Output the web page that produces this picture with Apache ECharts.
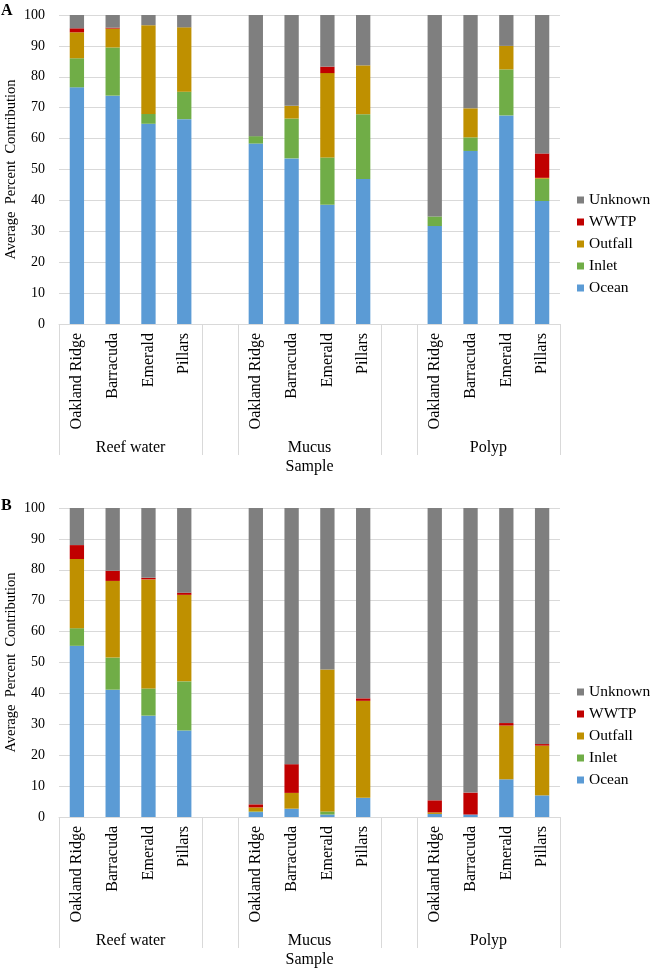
<!DOCTYPE html>
<html>
<head>
<meta charset="utf-8">
<script src="https://cdn.jsdelivr.net/npm/echarts@6/dist/echarts.min.js"></script>
<style>html,body{margin:0;padding:0;background:#fff;}#c{width:650px;height:970px;}</style>
</head>
<body>
<div id="c"></div>
<script>
// ---- data ----
const sites = ['Oakland Ridge', 'Barracuda', 'Emerald', 'Pillars'];
const groups = ['Reef water', 'Mucus', 'Polyp'];
const seriesNames = ['Ocean', 'Inlet', 'Outfall', 'WWTP', 'Unknown'];
const legendOrder = ['Unknown', 'WWTP', 'Outfall', 'Inlet', 'Ocean'];
const yTicks = [0, 10, 20, 30, 40, 50, 60, 70, 80, 90, 100];

// Panel A, per group [Oakland Ridge, Barracuda, Emerald, Pillars]
const A_Ocean   = [[76.6, 73.9, 64.8, 66.3], [58.4, 53.6, 38.6, 46.9], [31.7, 56.0, 67.5, 39.8]];
const A_Inlet   = [[9.4, 15.6, 3.2, 8.9],    [2.4, 12.9, 15.3, 21.0],  [3.1, 4.4, 14.9, 7.2]];
const A_Outfall = [[8.4, 6.1, 28.7, 20.8],   [0, 4.1, 27.3, 15.8],     [0, 9.4, 7.6, 0.3]];
const A_WWTP    = [[1.3, 0.3, 0, 0],         [0, 0, 2.1, 0],           [0, 0, 0, 7.9]];
const A_Unknown = [[4.3, 4.1, 3.3, 4.0],     [39.2, 29.4, 16.7, 16.3], [65.2, 30.2, 10.0, 44.8]];

// Panel B
const B_Ocean   = [[55.4, 41.2, 32.8, 28.0], [1.6, 2.7, 0.8, 6.2],     [1.0, 0.8, 12.2, 7.0]];
const B_Inlet   = [[5.7, 10.4, 8.8, 15.9],   [0.2, 0, 1.0, 0],         [0, 0, 0, 0]];
const B_Outfall = [[22.4, 24.8, 35.3, 28.0], [1.3, 5.1, 45.9, 31.4],   [0.5, 0, 17.4, 16.1]];
const B_WWTP    = [[4.5, 3.3, 0.5, 0.7],     [1.0, 9.3, 0, 0.8],       [3.9, 7.1, 0.8, 0.5]];
const B_Unknown = [[12.0, 20.3, 22.6, 27.4], [95.9, 82.9, 52.3, 61.6], [94.6, 92.1, 69.6, 76.4]];

const colors = {Ocean: '#5B9BD5', Inlet: '#70AD47', Outfall: '#BF9000', WWTP: '#C00000', Unknown: '#7F7F7F'};

// build 14-slot category list (4 sites, blank, 4 sites, blank, 4 sites)
function flatten(arr) {
  const out = [];
  arr.forEach((g, i) => { out.push(...g); if (i < arr.length - 1) out.push(null); });
  return out;
}
const categories = flatten([sites, sites, sites]).map(v => v === null ? '' : v);
const nCat = categories.length;
const groupBounds = [];
const groupCenters = [];
{
  let pos = 0;
  groups.forEach((g, i) => {
    groupBounds.push(pos);
    groupBounds.push(pos + sites.length);
    groupCenters.push(pos + sites.length / 2);
    pos += sites.length + 1;
  });
}

const FONT = 'Liberation Serif';
const panels = [
  {top: 15, data: {Ocean: A_Ocean, Inlet: A_Inlet, Outfall: A_Outfall, WWTP: A_WWTP, Unknown: A_Unknown}, legendTop: 192},
  {top: 508, data: {Ocean: B_Ocean, Inlet: B_Inlet, Outfall: B_Outfall, WWTP: B_WWTP, Unknown: B_Unknown}, legendTop: 684}
];

const grid = [], xAxis = [], yAxis = [], series = [], legend = [];
panels.forEach((p, pi) => {
  grid.push({left: 59, top: p.top, width: 501, height: 309, outerBoundsMode: 'none'});
  xAxis.push({
    type: 'category', gridIndex: pi, data: categories,
    axisLine: {show: true, lineStyle: {color: '#D9D9D9', width: 1}},
    axisTick: {show: false},
    axisLabel: {rotate: 90, margin: 9, interval: 0, color: '#000', fontFamily: FONT, fontSize: 16},
    splitLine: {show: false}
  });
  xAxis.push({
    type: 'value', gridIndex: pi, min: 0, max: nCat, position: 'bottom',
    axisLine: {show: false},
    splitLine: {show: false},
    axisTick: {show: true, customValues: groupBounds, length: 131, lineStyle: {color: '#D9D9D9', width: 1}},
    axisLabel: {show: true, customValues: groupCenters, margin: 116, color: '#000', fontFamily: FONT, fontSize: 16,
      formatter: v => { const i = groupCenters.indexOf(v); return i >= 0 ? groups[i] : ''; }},
    name: 'Sample', nameLocation: 'middle', nameGap: 135, nameMoveOverlap: false,
    nameTextStyle: {color: '#000', fontFamily: FONT, fontSize: 16}
  });
  yAxis.push({
    type: 'value', gridIndex: pi, min: 0, max: 100, interval: 10,
    axisLine: {show: false}, axisTick: {show: false},
    axisLabel: {margin: 14, color: '#000', fontFamily: FONT, fontSize: 14},
    splitLine: {show: true, lineStyle: {color: '#D9D9D9', width: 1}},
    name: 'Average  Percent  Contribution', nameLocation: 'middle', nameGap: 40, nameMoveOverlap: false,
    nameTextStyle: {color: '#000', fontFamily: FONT, fontSize: 14.5}
  });
  seriesNames.forEach(name => {
    series.push({
      name: name, type: 'bar', stack: 'p' + pi,
      xAxisIndex: pi * 2, yAxisIndex: pi,
      barWidth: '40%',
      itemStyle: {color: colors[name]},
      data: flatten(p.data[name]),
      animation: false
    });
  });
  legend.push({
    data: legendOrder, orient: 'vertical', left: 577, top: p.legendTop, padding: 0,
    itemWidth: 7, itemHeight: 7, itemGap: 6, icon: 'rect',
    textStyle: {color: '#000', fontFamily: FONT, fontSize: 15.5, padding: [0, 0, 0, 0]},
    selectedMode: false
  });
});

const chart = echarts.init(document.getElementById('c'), null, {renderer: 'canvas'});
chart.setOption({
  animation: false,
  color: seriesNames.map(n => colors[n]),
  title: [
    {text: 'A', left: 1, top: 3, padding: 0, textStyle: {fontFamily: FONT, fontWeight: 'bold', fontSize: 16, color: '#000'}},
    {text: 'B', left: 1, top: 498, padding: 0, textStyle: {fontFamily: FONT, fontWeight: 'bold', fontSize: 16, color: '#000'}}
  ],
  grid: grid, xAxis: xAxis, yAxis: yAxis, series: series, legend: legend
});
</script>
</body>
</html>
